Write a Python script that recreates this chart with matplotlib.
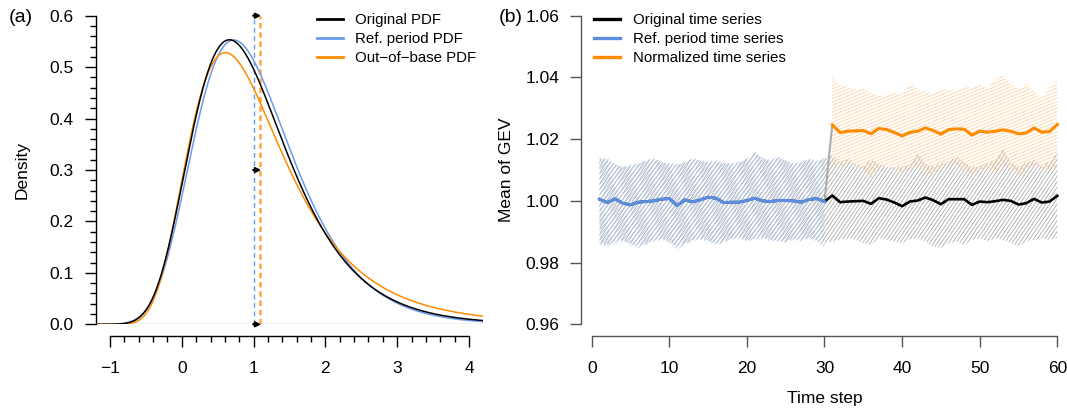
import numpy as np
import matplotlib
matplotlib.use("Agg")
import matplotlib.pyplot as plt
from matplotlib.collections import LineCollection
from matplotlib.patches import Polygon
from matplotlib.transforms import IdentityTransform
from matplotlib.lines import Line2D

plt.rcParams['font.family'] = ['Liberation Sans', 'DejaVu Sans']

# ---------------- data: panel (a) GEV PDFs (location, scale, shape) -------------
pdf_labels = ["Original PDF", "Ref. period PDF", "Out\u2212of\u2212base PDF"]
pdf_loc = [0.663, 0.695, 0.672]
pdf_scale = [0.665, 0.666, 0.700]
pdf_shape = [0.0, -0.04, 0.10]
ref_mark = 1.005      # blue dashed line
oob_mark = 1.095      # orange dashed line
arrow_levels = [0.6, 0.3, 0.0]

# ---------------- data: panel (b) time series ------------------------------------
time_ref = list(range(1, 31))
time_late = list(range(31, 61))
ref_series = [1.00054, 0.99946, 1.00065, 0.99924, 0.99870, 0.99957, 0.99978, 1.00000,
              1.00054, 1.00076, 0.99849, 1.00032, 0.99968, 1.00032, 1.00119, 1.00086,
              0.99946, 0.99957, 0.99957, 1.00011, 1.00086, 1.00000, 0.99978, 1.00011,
              1.00011, 1.00000, 0.99957, 1.00043, 1.00076, 0.99978]
orig_late = [1.00173, 0.99957, 0.99978, 0.99989, 1.00000, 0.99903, 1.00086, 1.00043,
             0.99946, 0.99827, 0.99978, 1.00011, 1.00108, 1.00022, 0.99892, 1.00054,
             1.00054, 1.00054, 0.99870, 0.99978, 0.99957, 0.99989, 1.00032, 1.00000,
             0.99881, 0.99924, 1.00065, 0.99946, 0.99978, 1.00162]
norm_series = [1.02462, 1.02214, 1.02257, 1.02268, 1.02279, 1.02171, 1.02344, 1.02311,
               1.02214, 1.02106, 1.02214, 1.02257, 1.02365, 1.02279, 1.02160, 1.02311,
               1.02333, 1.02322, 1.02128, 1.02257, 1.02225, 1.02257, 1.02300, 1.02257,
               1.02171, 1.02203, 1.02365, 1.02225, 1.02246, 1.02473]

orig_upper = [1.0136, 1.0134, 1.0118, 1.0109, 1.0114, 1.0119, 1.0130, 1.0135, 1.0124, 1.0119,
              1.0116, 1.0124, 1.0135, 1.0130, 1.0124, 1.0127, 1.0122, 1.0119, 1.0124, 1.0135,
              1.0157, 1.0137, 1.0130, 1.0141, 1.0130, 1.0119, 1.0124, 1.0135, 1.0127, 1.0137,
              1.0149, 1.0125, 1.0139, 1.0118, 1.0112, 1.0133, 1.0120, 1.0110, 1.0108, 1.0112,
              1.0118, 1.0155, 1.0120, 1.0112, 1.0122, 1.0128, 1.0144, 1.0125, 1.0110, 1.0112,
              1.0122, 1.0128, 1.0171, 1.0122, 1.0110, 1.0125, 1.0133, 1.0112, 1.0128, 1.0155]
orig_lower = [0.9863, 0.9858, 0.9868, 0.9873, 0.9862, 0.9854, 0.9862, 0.9872, 0.9878, 0.9868,
              0.9852, 0.9862, 0.9873, 0.9878, 0.9872, 0.9862, 0.9868, 0.9878, 0.9882, 0.9872,
              0.9878, 0.9882, 0.9874, 0.9872, 0.9868, 0.9878, 0.9872, 0.9882, 0.9872, 0.9862,
              0.9868, 0.9874, 0.9879, 0.9874, 0.9863, 0.9857, 0.9879, 0.9874, 0.9868, 0.9863,
              0.9874, 0.9879, 0.9868, 0.9852, 0.9847, 0.9863, 0.9868, 0.9857, 0.9874, 0.9879,
              0.9868, 0.9879, 0.9874, 0.9863, 0.9852, 0.9868, 0.9874, 0.9879, 0.9874, 0.9879]
ref_upper = [1.0140, 1.0138, 1.0122, 1.0111, 1.0117, 1.0122, 1.0133, 1.0138, 1.0127, 1.0122,
             1.0119, 1.0127, 1.0138, 1.0133, 1.0127, 1.0130, 1.0125, 1.0122, 1.0127, 1.0138,
             1.0160, 1.0140, 1.0133, 1.0144, 1.0133, 1.0122, 1.0127, 1.0138, 1.0130, 1.0140]
ref_lower = [0.9857, 0.9852, 0.9863, 0.9868, 0.9857, 0.9847, 0.9857, 0.9868, 0.9874, 0.9863,
             0.9842, 0.9857, 0.9868, 0.9874, 0.9868, 0.9857, 0.9863, 0.9874, 0.9879, 0.9868,
             0.9874, 0.9879, 0.9870, 0.9868, 0.9863, 0.9874, 0.9868, 0.9879, 0.9868, 0.9850]
norm_upper = [1.0403, 1.0376, 1.0370, 1.0360, 1.0365, 1.0349, 1.0343, 1.0338, 1.0354, 1.0343,
              1.0381, 1.0360, 1.0354, 1.0349, 1.0365, 1.0360, 1.0354, 1.0370, 1.0365, 1.0376,
              1.0365, 1.0392, 1.0408, 1.0376, 1.0360, 1.0381, 1.0354, 1.0333, 1.0365, 1.0392]
norm_lower = [1.0117, 1.0111, 1.0122, 1.0117, 1.0095, 1.0073, 1.0106, 1.0117, 1.0100, 1.0090,
              1.0106, 1.0117, 1.0095, 1.0084, 1.0106, 1.0117, 1.0122, 1.0095, 1.0084, 1.0100,
              1.0111, 1.0090, 1.0117, 1.0106, 1.0084, 1.0095, 1.0117, 1.0106, 1.0095, 1.0117]
series_labels = ["Original time series", "Ref. period time series", "Normalized time series"]

# ---------------- styling ---------------------------------------------------------
C_BLACK = "#000000"
C_BLUE = "#6A9BEA"
C_BLUE_TS = "#5B8EE0"
C_ORANGE = "#FF8C00"
W, H = 1067, 409
TICK_FS = 12.5
LAB_FS = 12.5
LEG_FS = 10.8


def gev_pdf(x, mu, sigma, xi):
    z = (x - mu) / sigma
    if abs(xi) < 1e-9:
        t = np.exp(-z)
    else:
        base = 1 + xi * z
        t = np.where(base > 0, np.abs(base) ** (-1.0 / xi), np.nan)
    f = (1.0 / sigma) * t ** (xi + 1) * np.exp(-t)
    return np.nan_to_num(f)


def rect(l, t, r, b):
    return [l / W, 1 - b / H, (r - l) / W, (b - t) / H]


def hatch_band(ax, x, lo, hi, color, angle, spacing, lw, zorder):
    verts = np.column_stack([np.r_[x, x[::-1]], np.r_[hi, lo[::-1]]])
    poly = Polygon(verts, closed=True, facecolor="none", edgecolor="none")
    ax.add_patch(poly)
    disp = ax.transData.transform(verts)
    xmin, ymin = disp.min(0)
    xmax, ymax = disp.max(0)
    a = np.deg2rad(angle)
    d = np.array([np.cos(a), np.sin(a)])
    n = np.array([-np.sin(a), np.cos(a)])
    corners = np.array([[xmin, ymin], [xmax, ymin], [xmin, ymax], [xmax, ymax]])
    pn = corners @ n
    pd = corners @ d
    offs = np.arange(pn.min(), pn.max() + spacing, spacing)
    segs = [[o * n + pd.min() * d, o * n + pd.max() * d] for o in offs]
    lc = LineCollection(segs, colors=color, linewidths=lw,
                        transform=IdentityTransform(), zorder=zorder)
    ax.add_collection(lc, autolim=False)
    lc.set_clip_path(poly)


def style_axis(ax, color, xb, yb):
    for s in ["top", "right"]:
        ax.spines[s].set_visible(False)
    ax.spines["left"].set_bounds(*yb)
    ax.spines["bottom"].set_bounds(*xb)
    ax.spines["bottom"].set_position(("outward", 8.6))
    for s in ["left", "bottom"]:
        ax.spines[s].set_color(color)
        ax.spines[s].set_linewidth(1.0)
    ax.tick_params(which="major", length=7.7, width=1.0, color=color,
                   labelsize=TICK_FS, labelcolor="black")
    ax.tick_params(which="minor", length=4.0, width=1.0, color=color)
    ax.tick_params(axis="y", pad=8.0)
    ax.tick_params(axis="x", pad=10.0)


fig = plt.figure(figsize=(W / 100, H / 100), dpi=100)

# ================= panel (a) =================
axA = fig.add_axes(rect(95.7, 15.7, 483.3, 324.3))
axA.set_xlim(-1.2, 4.2)
axA.set_ylim(0, 0.6)
xg = np.linspace(-1.2, 4.2, 800)
colsA = [C_BLACK, C_BLUE, C_ORANGE]
axA.axhline(0, color="#BBBBBB", lw=1.0, zorder=1)
order = [1, 2, 0]
for i in order:
    axA.plot(xg, gev_pdf(xg, pdf_loc[i], pdf_scale[i], pdf_shape[i]),
             color=colsA[i], lw=1.1, zorder=3 + (i == 0))
axA.plot([ref_mark, ref_mark], [0, 0.6], color=C_BLUE, lw=1.0,
         ls=(0, (3.5, 2.5)), zorder=2, clip_on=False)
axA.plot([oob_mark, oob_mark], [0, 0.6], color="#FFA640", lw=1.8,
         ls=(0, (2.2, 1.5)), zorder=2, clip_on=False)
for yl in arrow_levels:
    axA.annotate("", xy=(oob_mark + 0.01, yl), xytext=(ref_mark - 0.01, yl),
                 arrowprops=dict(arrowstyle="-|>", color="black", lw=1.6,
                                 mutation_scale=7, shrinkA=0, shrinkB=0),
                 annotation_clip=False, zorder=6)
axA.set_xticks(range(-1, 5))
axA.set_xticklabels(["\u22121", "0", "1", "2", "3", "4"])
axA.set_xticks(np.arange(-1, 4.001, 0.2), minor=True)
axA.set_yticks(np.arange(0, 0.61, 0.1))
axA.set_yticklabels(["0.0", "0.1", "0.2", "0.3", "0.4", "0.5", "0.6"])
axA.set_yticks(np.arange(0, 0.601, 0.02), minor=True)
style_axis(axA, "black", (-1, 4), (0, 0.6))
handlesA = [Line2D([], [], color=c, lw=2.0) for c in colsA]
axA.legend(handlesA, pdf_labels, loc="upper left",
           bbox_to_anchor=(317 / W, 1 - 13 / H), bbox_transform=fig.transFigure,
           frameon=False, fontsize=LEG_FS, handlelength=1.7, handletextpad=0.85,
           labelspacing=0.33, borderpad=0, borderaxespad=0)
fig.text(21.7 / W, 1 - 170 / H, "Density", rotation=90, ha="center", va="center",
         fontsize=LAB_FS)
fig.text(9 / W, 1 - 18 / H, "(a)", ha="left", va="center", fontsize=14)

# ================= panel (b) =================
axB = fig.add_axes(rect(581.3, 15.7, 1067, 324.3))
axB.set_xlim(-1.34, 61.25)
axB.set_ylim(0.96, 1.06)
t_all = np.array(time_ref + time_late)
orig_series = np.array(ref_series + orig_late)
hatch_band(axB, t_all, np.array(orig_lower), np.array(orig_upper),
           "#ABABAB", 56, 3.1, 0.6, 1)
hatch_band(axB, np.array(time_ref), np.array(ref_lower), np.array(ref_upper),
           "#B4C8EC", 48, 3.4, 0.6, 1.5)
hatch_band(axB, np.array(time_late), np.array(norm_lower), np.array(norm_upper),
           "#FFD2A2", 22, 3.1, 0.6, 2)
axB.plot(t_all, orig_series, color=C_BLACK, lw=1.9, zorder=4)
axB.plot(time_ref, ref_series, color=C_BLUE_TS, lw=2.2, zorder=5)
axB.plot([time_ref[-1], time_late[0]], [ref_series[-1], norm_series[0]],
         color="#ABABAB", lw=1.5, zorder=3)
axB.plot(time_late, norm_series, color=C_ORANGE, lw=2.2, zorder=5)
axB.set_xticks(range(0, 61, 10))
axB.set_yticks([0.96, 0.98, 1.00, 1.02, 1.04, 1.06])
axB.set_yticklabels(["0.96", "0.98", "1.00", "1.02", "1.04", "1.06"])
style_axis(axB, "#555555", (0, 60), (0.96, 1.06))
handlesB = [Line2D([], [], color=c, lw=2.4) for c in [C_BLACK, C_BLUE_TS, C_ORANGE]]
axB.legend(handlesB, series_labels, loc="upper left",
           bbox_to_anchor=(594 / W, 1 - 13 / H), bbox_transform=fig.transFigure,
           frameon=False, fontsize=LEG_FS, handlelength=1.7, handletextpad=0.9,
           labelspacing=0.33, borderpad=0, borderaxespad=0)
fig.text(506.7 / W, 1 - 170 / H, "Mean of GEV", rotation=90, ha="center", va="center",
         fontsize=LAB_FS)
fig.text(824.4 / W, 1 - 398 / H, "Time step", ha="center", va="center",
         fontsize=LAB_FS)
fig.text(499 / W, 1 - 17 / H, "(b)", ha="left", va="center", fontsize=14)

fig.savefig("out.png", dpi=100)
